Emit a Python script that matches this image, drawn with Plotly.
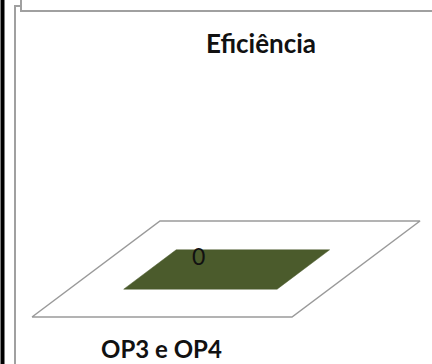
import plotly.graph_objects as go

# Chart data
title_text = "Eficiência"
categories = ["OP3 e OP4"]
values = [0]
bar_color = "#4B5B2C"

# Pseudo-3D projection: screen coordinates from (category, depth, value)
SKEW_X = 128 / 260      # horizontal shift per unit of depth (category units)
DEPTH_Y = 1.0           # vertical rise per unit of depth
VALUE_Y = 2.2           # vertical rise per unit of value
BAR_WIDTH = 0.59        # bar width as a fraction of the category slot
BAR_DEPTH = (0.29, 0.70)


def project(c, d, v=0.0):
    return c + d * SKEW_X, d * DEPTH_Y + v * VALUE_Y


def quad(points):
    xs, ys = zip(*[project(*p) for p in points])
    return list(xs) + [xs[0]], list(ys) + [ys[0]]


fig = go.Figure()

# Floor of the 3D plot area
n = len(categories)
fx, fy = quad([(-0.5, 0, 0), (n - 0.5, 0, 0), (n - 0.5, 1, 0), (-0.5, 1, 0)])
fig.add_trace(go.Scatter(x=fx, y=fy, mode="lines", fill="toself",
                         fillcolor="white", line=dict(color="#9a9a9a", width=1.5),
                         hoverinfo="skip", showlegend=False))

# Bars: top face at the value height
for i, (cat, val) in enumerate(zip(categories, values)):
    c0 = i - BAR_WIDTH / 2 + 0.005
    c1 = i + BAR_WIDTH / 2 + 0.005
    d0, d1 = BAR_DEPTH
    bx, by = quad([(c0, d0, val), (c1, d0, val), (c1, d1, val), (c0, d1, val)])
    fig.add_trace(go.Scatter(x=bx, y=by, mode="lines", fill="toself",
                             fillcolor=bar_color, line=dict(color=bar_color, width=0.5),
                             hoverinfo="skip", showlegend=False, name=cat))
    lx, ly = project(i + 0.005, d0, val)
    fig.add_annotation(x=lx, y=ly, text=str(val), showarrow=False,
                       xanchor="center", yanchor="bottom", xshift=-2, yshift=17,
                       font=dict(family="Lato", size=23, color="#111111"))
    cx, cy = project(i, 0, 0)
    fig.add_annotation(x=cx, y=cy, text=f"<b>{cat}</b>", showarrow=False,
                       xanchor="center", yanchor="middle", xshift=-1, yshift=-31,
                       font=dict(family="Lato", size=24, color="#111111"))

# Outer frame lines (paper pixels -> paper fraction)
W, H = 432, 364


def px(x):
    return x / W


def py(y):
    return 1 - y / H


frame = dict(color="#a0a0a0", width=2)
shapes = [
    dict(type="rect", xref="paper", yref="paper", x0=px(0.5), x1=px(4.5),
         y0=py(364), y1=py(0), fillcolor="black", line=dict(width=0)),
    dict(type="line", xref="paper", yref="paper", x0=px(15), x1=px(15),
         y0=py(364), y1=py(5), line=frame),
    dict(type="line", xref="paper", yref="paper", x0=px(14), x1=px(21),
         y0=py(6), y1=py(6), line=frame),
    dict(type="line", xref="paper", yref="paper", x0=px(21), x1=px(21),
         y0=py(0), y1=py(11), line=frame),
    dict(type="line", xref="paper", yref="paper", x0=px(20), x1=px(432),
         y0=py(11), y1=py(11), line=frame),
]

fig.update_layout(
    width=W, height=H,
    margin=dict(l=0, r=0, t=0, b=0),
    paper_bgcolor="white", plot_bgcolor="white",
    shapes=shapes,
    title=dict(text=f"<b>{title_text}</b>", x=px(261), xanchor="center",
               y=py(44), yanchor="middle",
               font=dict(family="Lato", size=26, color="#111111")),
    xaxis=dict(range=[-0.5 - 32 / 260, -0.5 + 400 / 260], visible=False, fixedrange=True),
    yaxis=dict(range=[(317 - 364) / 96, 317 / 96], visible=False, fixedrange=True),
)

fig.write_html("out.html")
